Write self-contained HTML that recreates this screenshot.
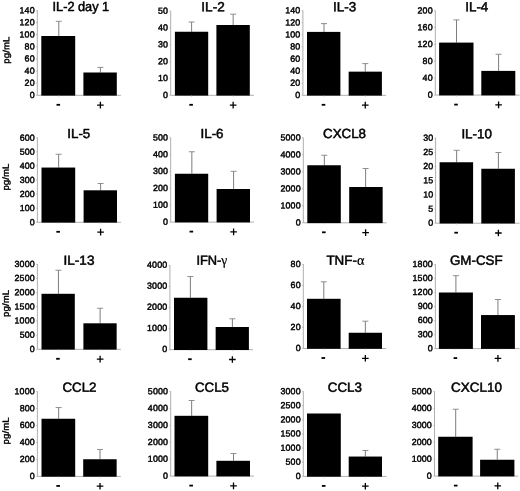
<!DOCTYPE html><html><head><meta charset="utf-8"><title>fig</title><style>
html,body{margin:0;padding:0;background:#fff;}svg{display:block;will-change:transform;}
text{font-family:"Liberation Sans",sans-serif;fill:#000;stroke:#000;}
.t{font-size:13.2px;text-anchor:middle;stroke-width:0.5px;}
.gk{font-family:"Liberation Serif",serif;font-size:14px;stroke-width:0.2px;}
.k{font-size:8.9px;text-anchor:end;stroke-width:0.44px;letter-spacing:0.12px;}
.y{font-size:8.9px;text-anchor:middle;stroke-width:0.4px;letter-spacing:0.1px;}
</style></head><body>
<svg width="520" height="491" viewBox="0 0 520 491">
<rect width="520" height="491" fill="#fff"/>
<g><path d="M37.3 10.30V95.3H120.9" fill="none" stroke="#a6a6a6" stroke-width="0.9"/><path d="M36.10 10.60H37.3" stroke="#a6a6a6" stroke-width="0.7"/><text class="k" transform="translate(34.70 13.20) rotate(0.05)">140</text><path d="M36.10 22.70H37.3" stroke="#a6a6a6" stroke-width="0.7"/><text class="k" transform="translate(34.70 25.30) rotate(0.05)">120</text><path d="M36.10 34.80H37.3" stroke="#a6a6a6" stroke-width="0.7"/><text class="k" transform="translate(34.70 37.40) rotate(0.05)">100</text><path d="M36.10 46.90H37.3" stroke="#a6a6a6" stroke-width="0.7"/><text class="k" transform="translate(34.70 49.50) rotate(0.05)">80</text><path d="M36.10 59.00H37.3" stroke="#a6a6a6" stroke-width="0.7"/><text class="k" transform="translate(34.70 61.60) rotate(0.05)">60</text><path d="M36.10 71.10H37.3" stroke="#a6a6a6" stroke-width="0.7"/><text class="k" transform="translate(34.70 73.70) rotate(0.05)">40</text><path d="M36.10 83.20H37.3" stroke="#a6a6a6" stroke-width="0.7"/><text class="k" transform="translate(34.70 85.80) rotate(0.05)">20</text><path d="M36.10 95.30H37.3" stroke="#a6a6a6" stroke-width="0.7"/><text class="k" transform="translate(34.70 97.90) rotate(0.05)">0</text><path d="M58.80 36.0V21.3" fill="none" stroke="#5c5c5c" stroke-width="0.8"/><path d="M55.80 21.3H61.80" fill="none" stroke="#858585" stroke-width="0.9"/><rect x="41.30" y="36.0" width="33.90" height="59.60" fill="#000"/><path d="M58.80 95.3v1.4" stroke="#a6a6a6" stroke-width="0.6"/><path d="M100.40 72.5V67.4" fill="none" stroke="#5c5c5c" stroke-width="0.8"/><path d="M97.40 67.4H103.40" fill="none" stroke="#858585" stroke-width="0.9"/><rect x="83.40" y="72.5" width="33.40" height="23.10" fill="#000"/><path d="M100.40 95.3v1.4" stroke="#a6a6a6" stroke-width="0.6"/><text class="t" transform="translate(80.87 11.10) rotate(0.05) scale(0.9670 1)">IL-2 day 1</text><rect x="56.50" y="103.90" width="3.6" height="1.8" fill="#000"/><path d="M97.10 105.10h6.6M100.40 101.80v6.6" stroke="#000" stroke-width="1.3" fill="none"/><text class="y" transform="translate(9.25 50.10) rotate(-89.95) scale(1.075 1)">pg/mL</text></g>
<g><path d="M170.7 10.80V95.3H253.9" fill="none" stroke="#a6a6a6" stroke-width="0.9"/><path d="M169.50 11.10H170.7" stroke="#a6a6a6" stroke-width="0.7"/><text class="k" transform="translate(168.10 13.70) rotate(0.05)">50</text><path d="M169.50 27.94H170.7" stroke="#a6a6a6" stroke-width="0.7"/><text class="k" transform="translate(168.10 30.54) rotate(0.05)">40</text><path d="M169.50 44.78H170.7" stroke="#a6a6a6" stroke-width="0.7"/><text class="k" transform="translate(168.10 47.38) rotate(0.05)">30</text><path d="M169.50 61.62H170.7" stroke="#a6a6a6" stroke-width="0.7"/><text class="k" transform="translate(168.10 64.22) rotate(0.05)">20</text><path d="M169.50 78.46H170.7" stroke="#a6a6a6" stroke-width="0.7"/><text class="k" transform="translate(168.10 81.06) rotate(0.05)">10</text><path d="M169.50 95.30H170.7" stroke="#a6a6a6" stroke-width="0.7"/><text class="k" transform="translate(168.10 97.90) rotate(0.05)">0</text><path d="M191.60 31.75V22.0" fill="none" stroke="#5c5c5c" stroke-width="0.8"/><path d="M188.60 22.0H194.60" fill="none" stroke="#858585" stroke-width="0.9"/><rect x="174.90" y="31.75" width="33.30" height="63.85" fill="#000"/><path d="M191.60 95.3v1.4" stroke="#a6a6a6" stroke-width="0.6"/><path d="M233.15 25.0V14.2" fill="none" stroke="#5c5c5c" stroke-width="0.8"/><path d="M230.15 14.2H236.15" fill="none" stroke="#858585" stroke-width="0.9"/><rect x="216.40" y="25.0" width="33.40" height="70.60" fill="#000"/><path d="M233.15 95.3v1.4" stroke="#a6a6a6" stroke-width="0.6"/><text class="t" transform="translate(213.00 11.20) rotate(0.05) scale(1.0304 1)">IL-2</text><rect x="189.30" y="103.90" width="3.6" height="1.8" fill="#000"/><path d="M229.85 105.10h6.6M233.15 101.80v6.6" stroke="#000" stroke-width="1.3" fill="none"/></g>
<g><path d="M302.9 10.40V95.3H386.1" fill="none" stroke="#a6a6a6" stroke-width="0.9"/><path d="M301.70 10.70H302.9" stroke="#a6a6a6" stroke-width="0.7"/><text class="k" transform="translate(300.30 13.30) rotate(0.05)">140</text><path d="M301.70 22.79H302.9" stroke="#a6a6a6" stroke-width="0.7"/><text class="k" transform="translate(300.30 25.39) rotate(0.05)">120</text><path d="M301.70 34.87H302.9" stroke="#a6a6a6" stroke-width="0.7"/><text class="k" transform="translate(300.30 37.47) rotate(0.05)">100</text><path d="M301.70 46.96H302.9" stroke="#a6a6a6" stroke-width="0.7"/><text class="k" transform="translate(300.30 49.56) rotate(0.05)">80</text><path d="M301.70 59.04H302.9" stroke="#a6a6a6" stroke-width="0.7"/><text class="k" transform="translate(300.30 61.64) rotate(0.05)">60</text><path d="M301.70 71.13H302.9" stroke="#a6a6a6" stroke-width="0.7"/><text class="k" transform="translate(300.30 73.73) rotate(0.05)">40</text><path d="M301.70 83.21H302.9" stroke="#a6a6a6" stroke-width="0.7"/><text class="k" transform="translate(300.30 85.81) rotate(0.05)">20</text><path d="M301.70 95.30H302.9" stroke="#a6a6a6" stroke-width="0.7"/><text class="k" transform="translate(300.30 97.90) rotate(0.05)">0</text><path d="M324.00 31.9V23.6" fill="none" stroke="#5c5c5c" stroke-width="0.8"/><path d="M321.00 23.6H327.00" fill="none" stroke="#858585" stroke-width="0.9"/><rect x="307.00" y="31.9" width="33.40" height="63.70" fill="#000"/><path d="M324.00 95.3v1.4" stroke="#a6a6a6" stroke-width="0.6"/><path d="M365.27 71.65V63.6" fill="none" stroke="#5c5c5c" stroke-width="0.8"/><path d="M362.27 63.6H368.27" fill="none" stroke="#858585" stroke-width="0.9"/><rect x="348.65" y="71.65" width="33.25" height="23.95" fill="#000"/><path d="M365.27 95.3v1.4" stroke="#a6a6a6" stroke-width="0.6"/><text class="t" transform="translate(344.63 11.20) rotate(0.05) scale(1.0226 1)">IL-3</text><rect x="321.70" y="103.90" width="3.6" height="1.8" fill="#000"/><path d="M361.97 105.10h6.6M365.27 101.80v6.6" stroke="#000" stroke-width="1.3" fill="none"/></g>
<g><path d="M435.3 10.50V95.1H519.6" fill="none" stroke="#a6a6a6" stroke-width="0.9"/><path d="M434.10 10.80H435.3" stroke="#a6a6a6" stroke-width="0.7"/><text class="k" transform="translate(432.70 13.40) rotate(0.05)">200</text><path d="M434.10 27.66H435.3" stroke="#a6a6a6" stroke-width="0.7"/><text class="k" transform="translate(432.70 30.26) rotate(0.05)">160</text><path d="M434.10 44.52H435.3" stroke="#a6a6a6" stroke-width="0.7"/><text class="k" transform="translate(432.70 47.12) rotate(0.05)">120</text><path d="M434.10 61.38H435.3" stroke="#a6a6a6" stroke-width="0.7"/><text class="k" transform="translate(432.70 63.98) rotate(0.05)">80</text><path d="M434.10 78.24H435.3" stroke="#a6a6a6" stroke-width="0.7"/><text class="k" transform="translate(432.70 80.84) rotate(0.05)">40</text><path d="M434.10 95.10H435.3" stroke="#a6a6a6" stroke-width="0.7"/><text class="k" transform="translate(432.70 97.70) rotate(0.05)">0</text><path d="M456.50 42.6V19.9" fill="none" stroke="#5c5c5c" stroke-width="0.8"/><path d="M453.50 19.9H459.50" fill="none" stroke="#858585" stroke-width="0.9"/><rect x="439.10" y="42.6" width="34.40" height="52.80" fill="#000"/><path d="M456.50 95.1v1.4" stroke="#a6a6a6" stroke-width="0.6"/><path d="M498.60 70.9V54.25" fill="none" stroke="#5c5c5c" stroke-width="0.8"/><path d="M495.60 54.25H501.60" fill="none" stroke="#858585" stroke-width="0.9"/><rect x="481.30" y="70.9" width="34.00" height="24.50" fill="#000"/><path d="M498.60 95.1v1.4" stroke="#a6a6a6" stroke-width="0.6"/><text class="t" transform="translate(476.75 11.20) rotate(0.05) scale(1.0111 1)">IL-4</text><rect x="454.20" y="103.70" width="3.6" height="1.8" fill="#000"/><path d="M495.30 104.90h6.6M498.60 101.60v6.6" stroke="#000" stroke-width="1.3" fill="none"/></g>
<g><path d="M37.4 137.50V222.3H121.0" fill="none" stroke="#a6a6a6" stroke-width="0.9"/><path d="M36.20 137.80H37.4" stroke="#a6a6a6" stroke-width="0.7"/><text class="k" transform="translate(34.80 140.70) rotate(0.05)">600</text><path d="M36.20 151.88H37.4" stroke="#a6a6a6" stroke-width="0.7"/><text class="k" transform="translate(34.80 154.78) rotate(0.05)">500</text><path d="M36.20 165.97H37.4" stroke="#a6a6a6" stroke-width="0.7"/><text class="k" transform="translate(34.80 168.87) rotate(0.05)">400</text><path d="M36.20 180.05H37.4" stroke="#a6a6a6" stroke-width="0.7"/><text class="k" transform="translate(34.80 182.95) rotate(0.05)">300</text><path d="M36.20 194.13H37.4" stroke="#a6a6a6" stroke-width="0.7"/><text class="k" transform="translate(34.80 197.03) rotate(0.05)">200</text><path d="M36.20 208.22H37.4" stroke="#a6a6a6" stroke-width="0.7"/><text class="k" transform="translate(34.80 211.12) rotate(0.05)">100</text><path d="M36.20 222.30H37.4" stroke="#a6a6a6" stroke-width="0.7"/><text class="k" transform="translate(34.80 225.20) rotate(0.05)">0</text><path d="M58.65 167.55V154.25" fill="none" stroke="#5c5c5c" stroke-width="0.8"/><path d="M55.65 154.25H61.65" fill="none" stroke="#858585" stroke-width="0.9"/><rect x="41.50" y="167.55" width="33.70" height="55.05" fill="#000"/><path d="M58.65 222.3v1.4" stroke="#a6a6a6" stroke-width="0.6"/><path d="M100.60 190.3V183.5" fill="none" stroke="#5c5c5c" stroke-width="0.8"/><path d="M97.60 183.5H103.60" fill="none" stroke="#858585" stroke-width="0.9"/><rect x="83.60" y="190.3" width="33.40" height="32.30" fill="#000"/><path d="M100.60 222.3v1.4" stroke="#a6a6a6" stroke-width="0.6"/><text class="t" transform="translate(78.75 138.10) rotate(0.05) scale(1.0133 1)">IL-5</text><rect x="56.35" y="230.90" width="3.6" height="1.8" fill="#000"/><path d="M97.30 232.10h6.6M100.60 228.80v6.6" stroke="#000" stroke-width="1.3" fill="none"/><text class="y" transform="translate(8.8 177.00) rotate(-89.95) scale(1.075 1)">pg/mL</text></g>
<g><path d="M170.7 137.50V222.1H254.0" fill="none" stroke="#a6a6a6" stroke-width="0.9"/><path d="M169.50 137.80H170.7" stroke="#a6a6a6" stroke-width="0.7"/><text class="k" transform="translate(168.10 140.40) rotate(0.05)">500</text><path d="M169.50 154.66H170.7" stroke="#a6a6a6" stroke-width="0.7"/><text class="k" transform="translate(168.10 157.26) rotate(0.05)">400</text><path d="M169.50 171.52H170.7" stroke="#a6a6a6" stroke-width="0.7"/><text class="k" transform="translate(168.10 174.12) rotate(0.05)">300</text><path d="M169.50 188.38H170.7" stroke="#a6a6a6" stroke-width="0.7"/><text class="k" transform="translate(168.10 190.98) rotate(0.05)">200</text><path d="M169.50 205.24H170.7" stroke="#a6a6a6" stroke-width="0.7"/><text class="k" transform="translate(168.10 207.84) rotate(0.05)">100</text><path d="M169.50 222.10H170.7" stroke="#a6a6a6" stroke-width="0.7"/><text class="k" transform="translate(168.10 224.70) rotate(0.05)">0</text><path d="M191.85 173.75V151.75" fill="none" stroke="#5c5c5c" stroke-width="0.8"/><path d="M188.85 151.75H194.85" fill="none" stroke="#858585" stroke-width="0.9"/><rect x="174.90" y="173.75" width="33.30" height="48.65" fill="#000"/><path d="M191.85 222.1v1.4" stroke="#a6a6a6" stroke-width="0.6"/><path d="M233.60 189.0V171.3" fill="none" stroke="#5c5c5c" stroke-width="0.8"/><path d="M230.60 171.3H236.60" fill="none" stroke="#858585" stroke-width="0.9"/><rect x="216.60" y="189.0" width="33.40" height="33.40" fill="#000"/><path d="M233.60 222.1v1.4" stroke="#a6a6a6" stroke-width="0.6"/><text class="t" transform="translate(212.00 138.10) rotate(0.05) scale(1.0163 1)">IL-6</text><rect x="189.55" y="230.70" width="3.6" height="1.8" fill="#000"/><path d="M230.30 231.90h6.6M233.60 228.60v6.6" stroke="#000" stroke-width="1.3" fill="none"/></g>
<g><path d="M303.3 137.50V222.8H386.5" fill="none" stroke="#a6a6a6" stroke-width="0.9"/><path d="M302.10 137.80H303.3" stroke="#a6a6a6" stroke-width="0.7"/><text class="k" transform="translate(300.70 140.40) rotate(0.05)">5000</text><path d="M302.10 154.80H303.3" stroke="#a6a6a6" stroke-width="0.7"/><text class="k" transform="translate(300.70 157.40) rotate(0.05)">4000</text><path d="M302.10 171.80H303.3" stroke="#a6a6a6" stroke-width="0.7"/><text class="k" transform="translate(300.70 174.40) rotate(0.05)">3000</text><path d="M302.10 188.80H303.3" stroke="#a6a6a6" stroke-width="0.7"/><text class="k" transform="translate(300.70 191.40) rotate(0.05)">2000</text><path d="M302.10 205.80H303.3" stroke="#a6a6a6" stroke-width="0.7"/><text class="k" transform="translate(300.70 208.40) rotate(0.05)">1000</text><path d="M302.10 222.80H303.3" stroke="#a6a6a6" stroke-width="0.7"/><text class="k" transform="translate(300.70 225.40) rotate(0.05)">0</text><path d="M324.35 165.25V155.25" fill="none" stroke="#5c5c5c" stroke-width="0.8"/><path d="M321.35 155.25H327.35" fill="none" stroke="#858585" stroke-width="0.9"/><rect x="307.30" y="165.25" width="33.50" height="57.85" fill="#000"/><path d="M324.35 222.8v1.4" stroke="#a6a6a6" stroke-width="0.6"/><path d="M365.62 187.0V168.5" fill="none" stroke="#5c5c5c" stroke-width="0.8"/><path d="M362.62 168.5H368.62" fill="none" stroke="#858585" stroke-width="0.9"/><rect x="349.20" y="187.0" width="33.45" height="36.10" fill="#000"/><path d="M365.62 222.8v1.4" stroke="#a6a6a6" stroke-width="0.6"/><text class="t" transform="translate(344.50 138.10) rotate(0.05) scale(1.0128 1)">CXCL8</text><rect x="322.05" y="231.40" width="3.6" height="1.8" fill="#000"/><path d="M362.32 232.60h6.6M365.62 229.30v6.6" stroke="#000" stroke-width="1.3" fill="none"/></g>
<g><path d="M435.6 137.90V223.2H519.6" fill="none" stroke="#a6a6a6" stroke-width="0.9"/><path d="M434.40 138.20H435.6" stroke="#a6a6a6" stroke-width="0.7"/><text class="k" transform="translate(433.40 140.80) rotate(0.05)">30</text><path d="M434.40 152.37H435.6" stroke="#a6a6a6" stroke-width="0.7"/><text class="k" transform="translate(433.40 154.97) rotate(0.05)">25</text><path d="M434.40 166.53H435.6" stroke="#a6a6a6" stroke-width="0.7"/><text class="k" transform="translate(433.40 169.13) rotate(0.05)">20</text><path d="M434.40 180.70H435.6" stroke="#a6a6a6" stroke-width="0.7"/><text class="k" transform="translate(433.40 183.30) rotate(0.05)">15</text><path d="M434.40 194.87H435.6" stroke="#a6a6a6" stroke-width="0.7"/><text class="k" transform="translate(433.40 197.47) rotate(0.05)">10</text><path d="M434.40 209.03H435.6" stroke="#a6a6a6" stroke-width="0.7"/><text class="k" transform="translate(433.40 211.63) rotate(0.05)">5</text><path d="M434.40 223.20H435.6" stroke="#a6a6a6" stroke-width="0.7"/><text class="k" transform="translate(433.40 225.80) rotate(0.05)">0</text><path d="M456.65 162.25V150.3" fill="none" stroke="#5c5c5c" stroke-width="0.8"/><path d="M453.65 150.3H459.65" fill="none" stroke="#858585" stroke-width="0.9"/><rect x="439.60" y="162.25" width="33.50" height="61.25" fill="#000"/><path d="M456.65 223.2v1.4" stroke="#a6a6a6" stroke-width="0.6"/><path d="M498.40 168.75V152.5" fill="none" stroke="#5c5c5c" stroke-width="0.8"/><path d="M495.40 152.5H501.40" fill="none" stroke="#858585" stroke-width="0.9"/><rect x="481.30" y="168.75" width="33.60" height="54.75" fill="#000"/><path d="M498.40 223.2v1.4" stroke="#a6a6a6" stroke-width="0.6"/><text class="t" transform="translate(476.62 138.20) rotate(0.05) scale(1.0137 1)">IL-10</text><rect x="454.35" y="231.80" width="3.6" height="1.8" fill="#000"/><path d="M495.10 233.00h6.6M498.40 229.70v6.6" stroke="#000" stroke-width="1.3" fill="none"/></g>
<g><path d="M37.4 264.00V349.3H120.9" fill="none" stroke="#a6a6a6" stroke-width="0.9"/><path d="M36.20 264.30H37.4" stroke="#a6a6a6" stroke-width="0.7"/><text class="k" transform="translate(34.80 266.90) rotate(0.05)">3000</text><path d="M36.20 278.47H37.4" stroke="#a6a6a6" stroke-width="0.7"/><text class="k" transform="translate(34.80 281.07) rotate(0.05)">2500</text><path d="M36.20 292.63H37.4" stroke="#a6a6a6" stroke-width="0.7"/><text class="k" transform="translate(34.80 295.23) rotate(0.05)">2000</text><path d="M36.20 306.80H37.4" stroke="#a6a6a6" stroke-width="0.7"/><text class="k" transform="translate(34.80 309.40) rotate(0.05)">1500</text><path d="M36.20 320.97H37.4" stroke="#a6a6a6" stroke-width="0.7"/><text class="k" transform="translate(34.80 323.57) rotate(0.05)">1000</text><path d="M36.20 335.13H37.4" stroke="#a6a6a6" stroke-width="0.7"/><text class="k" transform="translate(34.80 337.73) rotate(0.05)">500</text><path d="M36.20 349.30H37.4" stroke="#a6a6a6" stroke-width="0.7"/><text class="k" transform="translate(34.80 351.90) rotate(0.05)">0</text><path d="M58.45 293.8V270.25" fill="none" stroke="#5c5c5c" stroke-width="0.8"/><path d="M55.45 270.25H61.45" fill="none" stroke="#858585" stroke-width="0.9"/><rect x="41.50" y="293.8" width="33.30" height="55.80" fill="#000"/><path d="M58.45 349.3v1.4" stroke="#a6a6a6" stroke-width="0.6"/><path d="M100.12 323.3V308.25" fill="none" stroke="#5c5c5c" stroke-width="0.8"/><path d="M97.12 308.25H103.12" fill="none" stroke="#858585" stroke-width="0.9"/><rect x="83.40" y="323.3" width="33.25" height="26.30" fill="#000"/><path d="M100.12 349.3v1.4" stroke="#a6a6a6" stroke-width="0.6"/><text class="t" transform="translate(79.00 264.85) rotate(0.05) scale(1.0275 1)">IL-13</text><rect x="56.15" y="357.90" width="3.6" height="1.8" fill="#000"/><path d="M96.83 359.10h6.6M100.12 355.80v6.6" stroke="#000" stroke-width="1.3" fill="none"/><text class="y" transform="translate(8.7 303.40) rotate(-89.95) scale(1.075 1)">pg/mL</text></g>
<g><path d="M169.9 265.10V349.7H253.0" fill="none" stroke="#a6a6a6" stroke-width="0.9"/><path d="M168.70 265.40H169.9" stroke="#a6a6a6" stroke-width="0.7"/><text class="k" transform="translate(167.30 267.70) rotate(0.05)">4000</text><path d="M168.70 286.47H169.9" stroke="#a6a6a6" stroke-width="0.7"/><text class="k" transform="translate(167.30 288.77) rotate(0.05)">3000</text><path d="M168.70 307.55H169.9" stroke="#a6a6a6" stroke-width="0.7"/><text class="k" transform="translate(167.30 309.85) rotate(0.05)">2000</text><path d="M168.70 328.62H169.9" stroke="#a6a6a6" stroke-width="0.7"/><text class="k" transform="translate(167.30 330.93) rotate(0.05)">1000</text><path d="M168.70 349.70H169.9" stroke="#a6a6a6" stroke-width="0.7"/><text class="k" transform="translate(167.30 352.00) rotate(0.05)">0</text><path d="M190.40 297.75V276.5" fill="none" stroke="#5c5c5c" stroke-width="0.8"/><path d="M187.40 276.5H193.40" fill="none" stroke="#858585" stroke-width="0.9"/><rect x="174.00" y="297.75" width="33.40" height="52.25" fill="#000"/><path d="M190.40 349.7v1.4" stroke="#a6a6a6" stroke-width="0.6"/><path d="M232.38 327.0V318.8" fill="none" stroke="#5c5c5c" stroke-width="0.8"/><path d="M229.38 318.8H235.38" fill="none" stroke="#858585" stroke-width="0.9"/><rect x="215.65" y="327.0" width="33.25" height="23.00" fill="#000"/><path d="M232.38 349.7v1.4" stroke="#a6a6a6" stroke-width="0.6"/><text class="t" transform="translate(211.88 264.85) rotate(0.05) scale(0.9730 1)">IFN-<tspan class='gk'>γ</tspan></text><rect x="188.10" y="358.30" width="3.6" height="1.8" fill="#000"/><path d="M229.07 359.50h6.6M232.38 356.20v6.6" stroke="#000" stroke-width="1.3" fill="none"/></g>
<g><path d="M303.3 264.00V348.5H386.1" fill="none" stroke="#a6a6a6" stroke-width="0.9"/><path d="M302.10 264.30H303.3" stroke="#a6a6a6" stroke-width="0.7"/><text class="k" transform="translate(300.70 266.90) rotate(0.05)">80</text><path d="M302.10 285.35H303.3" stroke="#a6a6a6" stroke-width="0.7"/><text class="k" transform="translate(300.70 287.95) rotate(0.05)">60</text><path d="M302.10 306.40H303.3" stroke="#a6a6a6" stroke-width="0.7"/><text class="k" transform="translate(300.70 309.00) rotate(0.05)">40</text><path d="M302.10 327.45H303.3" stroke="#a6a6a6" stroke-width="0.7"/><text class="k" transform="translate(300.70 330.05) rotate(0.05)">20</text><path d="M302.10 348.50H303.3" stroke="#a6a6a6" stroke-width="0.7"/><text class="k" transform="translate(300.70 351.10) rotate(0.05)">0</text><path d="M323.80 298.8V281.8" fill="none" stroke="#5c5c5c" stroke-width="0.8"/><path d="M320.80 281.8H326.80" fill="none" stroke="#858585" stroke-width="0.9"/><rect x="307.00" y="298.8" width="33.60" height="50.00" fill="#000"/><path d="M323.80 348.5v1.4" stroke="#a6a6a6" stroke-width="0.6"/><path d="M365.35 332.75V321.2" fill="none" stroke="#5c5c5c" stroke-width="0.8"/><path d="M362.35 321.2H368.35" fill="none" stroke="#858585" stroke-width="0.9"/><rect x="348.70" y="332.75" width="33.30" height="16.05" fill="#000"/><path d="M365.35 348.5v1.4" stroke="#a6a6a6" stroke-width="0.6"/><text class="t" transform="translate(345.38 264.85) rotate(0.05) scale(1.0154 1)">TNF-<tspan class='gk'>α</tspan></text><rect x="321.50" y="357.10" width="3.6" height="1.8" fill="#000"/><path d="M362.05 358.30h6.6M365.35 355.00v6.6" stroke="#000" stroke-width="1.3" fill="none"/></g>
<g><path d="M435.4 264.10V348.6H519.6" fill="none" stroke="#a6a6a6" stroke-width="0.9"/><path d="M434.20 264.40H435.4" stroke="#a6a6a6" stroke-width="0.7"/><text class="k" transform="translate(432.80 267.00) rotate(0.05)">1800</text><path d="M434.20 278.43H435.4" stroke="#a6a6a6" stroke-width="0.7"/><text class="k" transform="translate(432.80 281.03) rotate(0.05)">1500</text><path d="M434.20 292.47H435.4" stroke="#a6a6a6" stroke-width="0.7"/><text class="k" transform="translate(432.80 295.07) rotate(0.05)">1200</text><path d="M434.20 306.50H435.4" stroke="#a6a6a6" stroke-width="0.7"/><text class="k" transform="translate(432.80 309.10) rotate(0.05)">900</text><path d="M434.20 320.53H435.4" stroke="#a6a6a6" stroke-width="0.7"/><text class="k" transform="translate(432.80 323.13) rotate(0.05)">600</text><path d="M434.20 334.57H435.4" stroke="#a6a6a6" stroke-width="0.7"/><text class="k" transform="translate(432.80 337.17) rotate(0.05)">300</text><path d="M434.20 348.60H435.4" stroke="#a6a6a6" stroke-width="0.7"/><text class="k" transform="translate(432.80 351.20) rotate(0.05)">0</text><path d="M455.90 292.5V275.7" fill="none" stroke="#5c5c5c" stroke-width="0.8"/><path d="M452.90 275.7H458.90" fill="none" stroke="#858585" stroke-width="0.9"/><rect x="438.90" y="292.5" width="34.00" height="56.40" fill="#000"/><path d="M455.90 348.6v1.4" stroke="#a6a6a6" stroke-width="0.6"/><path d="M497.95 315.05V299.5" fill="none" stroke="#5c5c5c" stroke-width="0.8"/><path d="M494.95 299.5H500.95" fill="none" stroke="#858585" stroke-width="0.9"/><rect x="481.00" y="315.05" width="33.90" height="33.85" fill="#000"/><path d="M497.95 348.6v1.4" stroke="#a6a6a6" stroke-width="0.6"/><text class="t" transform="translate(476.25 264.85) rotate(0.05) scale(1.0107 1)">GM-CSF</text><rect x="453.60" y="357.20" width="3.6" height="1.8" fill="#000"/><path d="M494.65 358.40h6.6M497.95 355.10v6.6" stroke="#000" stroke-width="1.3" fill="none"/></g>
<g><path d="M37.4 391.30V476.4H120.9" fill="none" stroke="#a6a6a6" stroke-width="0.9"/><path d="M36.20 391.60H37.4" stroke="#a6a6a6" stroke-width="0.7"/><text class="k" transform="translate(34.80 394.20) rotate(0.05)">1000</text><path d="M36.20 408.56H37.4" stroke="#a6a6a6" stroke-width="0.7"/><text class="k" transform="translate(34.80 411.16) rotate(0.05)">800</text><path d="M36.20 425.52H37.4" stroke="#a6a6a6" stroke-width="0.7"/><text class="k" transform="translate(34.80 428.12) rotate(0.05)">600</text><path d="M36.20 442.48H37.4" stroke="#a6a6a6" stroke-width="0.7"/><text class="k" transform="translate(34.80 445.08) rotate(0.05)">400</text><path d="M36.20 459.44H37.4" stroke="#a6a6a6" stroke-width="0.7"/><text class="k" transform="translate(34.80 462.04) rotate(0.05)">200</text><path d="M36.20 476.40H37.4" stroke="#a6a6a6" stroke-width="0.7"/><text class="k" transform="translate(34.80 479.00) rotate(0.05)">0</text><path d="M58.65 418.75V407.55" fill="none" stroke="#5c5c5c" stroke-width="0.8"/><path d="M55.65 407.55H61.65" fill="none" stroke="#858585" stroke-width="0.9"/><rect x="41.50" y="418.75" width="33.70" height="57.95" fill="#000"/><path d="M58.65 476.4v1.4" stroke="#a6a6a6" stroke-width="0.6"/><path d="M100.03 459.25V449.55" fill="none" stroke="#5c5c5c" stroke-width="0.8"/><path d="M97.03 449.55H103.03" fill="none" stroke="#858585" stroke-width="0.9"/><rect x="83.20" y="459.25" width="33.45" height="17.45" fill="#000"/><path d="M100.03 476.4v1.4" stroke="#a6a6a6" stroke-width="0.6"/><text class="t" transform="translate(79.50 391.85) rotate(0.05) scale(1.0103 1)">CCL2</text><rect x="56.35" y="485.00" width="3.6" height="1.8" fill="#000"/><path d="M96.73 486.20h6.6M100.03 482.90v6.6" stroke="#000" stroke-width="1.3" fill="none"/><text class="y" transform="translate(8.7 430.90) rotate(-89.95) scale(1.075 1)">pg/mL</text></g>
<g><path d="M170.7 391.30V476.1H254.0" fill="none" stroke="#a6a6a6" stroke-width="0.9"/><path d="M169.50 391.60H170.7" stroke="#a6a6a6" stroke-width="0.7"/><text class="k" transform="translate(168.10 394.20) rotate(0.05)">5000</text><path d="M169.50 408.50H170.7" stroke="#a6a6a6" stroke-width="0.7"/><text class="k" transform="translate(168.10 411.10) rotate(0.05)">4000</text><path d="M169.50 425.40H170.7" stroke="#a6a6a6" stroke-width="0.7"/><text class="k" transform="translate(168.10 428.00) rotate(0.05)">3000</text><path d="M169.50 442.30H170.7" stroke="#a6a6a6" stroke-width="0.7"/><text class="k" transform="translate(168.10 444.90) rotate(0.05)">2000</text><path d="M169.50 459.20H170.7" stroke="#a6a6a6" stroke-width="0.7"/><text class="k" transform="translate(168.10 461.80) rotate(0.05)">1000</text><path d="M169.50 476.10H170.7" stroke="#a6a6a6" stroke-width="0.7"/><text class="k" transform="translate(168.10 478.70) rotate(0.05)">0</text><path d="M191.65 415.8V400.5" fill="none" stroke="#5c5c5c" stroke-width="0.8"/><path d="M188.65 400.5H194.65" fill="none" stroke="#858585" stroke-width="0.9"/><rect x="174.50" y="415.8" width="33.70" height="60.60" fill="#000"/><path d="M191.65 476.1v1.4" stroke="#a6a6a6" stroke-width="0.6"/><path d="M233.50 460.8V453.5" fill="none" stroke="#5c5c5c" stroke-width="0.8"/><path d="M230.50 453.5H236.50" fill="none" stroke="#858585" stroke-width="0.9"/><rect x="216.40" y="460.8" width="33.60" height="15.60" fill="#000"/><path d="M233.50 476.1v1.4" stroke="#a6a6a6" stroke-width="0.6"/><text class="t" transform="translate(212.00 391.85) rotate(0.05) scale(1.0088 1)">CCL5</text><rect x="189.35" y="484.70" width="3.6" height="1.8" fill="#000"/><path d="M230.20 485.90h6.6M233.50 482.60v6.6" stroke="#000" stroke-width="1.3" fill="none"/></g>
<g><path d="M303.3 391.30V476.4H386.5" fill="none" stroke="#a6a6a6" stroke-width="0.9"/><path d="M302.10 391.60H303.3" stroke="#a6a6a6" stroke-width="0.7"/><text class="k" transform="translate(300.70 394.20) rotate(0.05)">3000</text><path d="M302.10 405.73H303.3" stroke="#a6a6a6" stroke-width="0.7"/><text class="k" transform="translate(300.70 408.33) rotate(0.05)">2500</text><path d="M302.10 419.87H303.3" stroke="#a6a6a6" stroke-width="0.7"/><text class="k" transform="translate(300.70 422.47) rotate(0.05)">2000</text><path d="M302.10 434.00H303.3" stroke="#a6a6a6" stroke-width="0.7"/><text class="k" transform="translate(300.70 436.60) rotate(0.05)">1500</text><path d="M302.10 448.13H303.3" stroke="#a6a6a6" stroke-width="0.7"/><text class="k" transform="translate(300.70 450.73) rotate(0.05)">1000</text><path d="M302.10 462.27H303.3" stroke="#a6a6a6" stroke-width="0.7"/><text class="k" transform="translate(300.70 464.87) rotate(0.05)">500</text><path d="M302.10 476.40H303.3" stroke="#a6a6a6" stroke-width="0.7"/><text class="k" transform="translate(300.70 479.00) rotate(0.05)">0</text><rect x="307.00" y="413.5" width="33.80" height="63.20" fill="#000"/><path d="M324.20 476.4v1.4" stroke="#a6a6a6" stroke-width="0.6"/><path d="M365.35 456.55V450.5" fill="none" stroke="#5c5c5c" stroke-width="0.8"/><path d="M362.35 450.5H368.35" fill="none" stroke="#858585" stroke-width="0.9"/><rect x="348.70" y="456.55" width="33.30" height="20.15" fill="#000"/><path d="M365.35 476.4v1.4" stroke="#a6a6a6" stroke-width="0.6"/><text class="t" transform="translate(344.88 391.85) rotate(0.05) scale(1.0130 1)">CCL3</text><rect x="321.90" y="485.00" width="3.6" height="1.8" fill="#000"/><path d="M362.05 486.20h6.6M365.35 482.90v6.6" stroke="#000" stroke-width="1.3" fill="none"/></g>
<g><path d="M434.5 391.30V476.1H518.2" fill="none" stroke="#a6a6a6" stroke-width="0.9"/><path d="M433.30 391.60H434.5" stroke="#a6a6a6" stroke-width="0.7"/><text class="k" transform="translate(431.90 394.20) rotate(0.05)">5000</text><path d="M433.30 408.50H434.5" stroke="#a6a6a6" stroke-width="0.7"/><text class="k" transform="translate(431.90 411.10) rotate(0.05)">4000</text><path d="M433.30 425.40H434.5" stroke="#a6a6a6" stroke-width="0.7"/><text class="k" transform="translate(431.90 428.00) rotate(0.05)">3000</text><path d="M433.30 442.30H434.5" stroke="#a6a6a6" stroke-width="0.7"/><text class="k" transform="translate(431.90 444.90) rotate(0.05)">2000</text><path d="M433.30 459.20H434.5" stroke="#a6a6a6" stroke-width="0.7"/><text class="k" transform="translate(431.90 461.80) rotate(0.05)">1000</text><path d="M433.30 476.10H434.5" stroke="#a6a6a6" stroke-width="0.7"/><text class="k" transform="translate(431.90 478.70) rotate(0.05)">0</text><path d="M455.70 436.75V409.25" fill="none" stroke="#5c5c5c" stroke-width="0.8"/><path d="M452.70 409.25H458.70" fill="none" stroke="#858585" stroke-width="0.9"/><rect x="438.20" y="436.75" width="34.40" height="39.65" fill="#000"/><path d="M455.70 476.1v1.4" stroke="#a6a6a6" stroke-width="0.6"/><path d="M497.25 459.75V449.25" fill="none" stroke="#5c5c5c" stroke-width="0.8"/><path d="M494.25 449.25H500.25" fill="none" stroke="#858585" stroke-width="0.9"/><rect x="480.10" y="459.75" width="34.30" height="16.65" fill="#000"/><path d="M497.25 476.1v1.4" stroke="#a6a6a6" stroke-width="0.6"/><text class="t" transform="translate(476.50 391.85) rotate(0.05) scale(1.0210 1)">CXCL10</text><rect x="453.90" y="484.70" width="3.6" height="1.8" fill="#000"/><path d="M494.45 485.90h6.6M497.75 482.60v6.6" stroke="#000" stroke-width="1.3" fill="none"/></g>
</svg></body></html>
